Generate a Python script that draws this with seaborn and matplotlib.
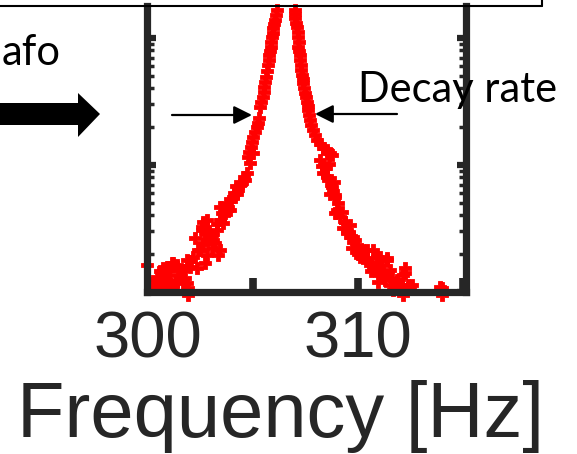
import matplotlib
matplotlib.use("Agg")
import matplotlib.pyplot as plt
import seaborn as sns
import pandas as pd
from matplotlib.ticker import LogLocator, NullLocator, NullFormatter, FixedLocator
from matplotlib.patches import Polygon, FancyArrowPatch
from matplotlib.lines import Line2D

# ---------------- data ----------------
freq_upper_left = [306.13, 306.10, 306.05, 306.00, 305.97, 305.93, 305.89, 305.86, 305.84,
                   305.80, 305.78, 305.74, 305.70, 305.66, 305.62, 305.58, 305.54, 305.50,
                   305.46, 305.40, 305.33, 305.30, 305.25, 305.18, 305.10, 305.01, 304.95,
                   304.89, 304.83, 304.78]
amp_upper_left = [166, 152, 139, 128, 120, 110, 102, 93, 85,
                  79, 73.5, 67, 61.3, 55, 49.3, 45, 41.1, 37.5,
                  34.3, 31, 28.6, 23.4, 21.5, 19.9, 18, 16.6, 15.2,
                  13.9, 12.6, 11.6]

freq_upper_right = [307.00, 307.02, 307.00, 307.05, 307.08, 307.12, 307.16, 307.18, 307.16,
                    307.20, 307.24, 307.25, 307.27, 307.30, 307.32, 307.36, 307.40, 307.44,
                    307.48, 307.52, 307.56, 307.60, 307.63, 307.67, 307.71, 307.78, 307.87,
                    307.96, 308.06, 308.20, 308.35, 308.50, 308.67]
amp_upper_right = [166, 155, 144, 132, 122, 112, 102, 93, 85,
                   79, 73.5, 67, 61.3, 56, 51.1, 47.5, 44.2, 40.5,
                   36.9, 34, 31.3, 29, 27.1, 24.8, 22.6, 20.7, 18.9,
                   17.2, 15.7, 14.6, 13.6, 13.0, 12.4]

freq_lower_left = [305.01, 304.86, 304.70, 304.55, 304.46, 304.40, 304.30, 304.20, 304.10,
                   304.06, 303.95, 303.90, 303.82, 303.70, 303.67, 303.60, 303.59, 303.51,
                   303.43, 303.43, 303.43, 303.35, 303.30, 303.27, 303.19, 303.11, 303.03,
                   302.80, 302.80, 302.80, 302.71, 302.63, 302.63, 302.56, 302.56, 302.48,
                   302.40, 302.32, 302.24, 302.16, 302.00, 301.92, 301.92, 301.84, 301.84,
                   301.68, 301.68, 301.60, 301.52, 301.52, 301.44, 301.20, 301.20, 301.20,
                   301.13, 301.05, 300.89, 300.89, 300.81, 300.73, 300.57, 300.57, 300.57,
                   300.41, 300.25, 300.18, 299.97,
                   301.35, 301.00, 300.65, 300.35, 301.75, 302.05, 300.95, 301.40, 300.50,
                   302.90, 303.05, 302.70, 304.62, 304.25, 303.75]
amp_lower_left = [12.3, 10.4, 8.65, 8.0, 7.21, 6.9, 6.36, 6.8, 6.0,
                  5.60, 5.2, 4.4, 4.67, 5.0, 4.17, 4.0, 3.47, 4.19,
                  3.69, 4.70, 2.14, 1.96, 3.4, 3.08, 2.43, 2.57, 2.21,
                  2.57, 3.69, 1.96, 1.69, 3.56, 2.42, 3.08, 3.27, 2.14,
                  2.14, 1.55, 2.66, 1.89, 1.58, 0.947, 1.07, 1.79, 1.18,
                  1.49, 1.17, 1.49, 1.31, 1.32, 1.49, 1.69, 1.09, 1.14,
                  1.68, 1.36, 1.24, 1.58, 1.21, 1.55, 1.09, 1.45, 1.14,
                  1.31, 1.18, 1.07, 1.64,
                  1.22, 1.50, 1.28, 1.05, 1.30, 1.75, 1.10, 1.62, 1.20,
                  3.00, 2.80, 2.90, 7.60, 5.90, 4.40]

freq_lower_right = [308.19, 308.30, 308.35, 308.45, 308.50, 308.51, 308.59, 308.65, 308.70,
                    308.75, 308.75, 308.80, 308.90, 308.90, 308.90, 308.99, 309.06, 309.14,
                    309.22, 309.38, 309.38, 309.46, 309.46, 309.62, 309.62, 309.70, 309.78,
                    309.78, 309.94, 309.94, 310.10, 310.10, 310.25, 310.25, 310.25, 310.41,
                    310.41, 310.57, 310.57, 310.73, 310.73, 310.89, 310.89, 310.97, 311.05,
                    311.13, 311.20, 311.20, 311.37, 311.37, 311.52, 311.52, 311.68, 311.84,
                    312.00, 312.10, 312.16, 312.16, 312.24, 312.24, 312.38, 312.40, 312.48,
                    312.57, 313.90, 313.99, 314.00,
                    309.30, 309.55, 309.85, 310.00, 310.60, 311.00, 311.30, 311.60, 311.90,
                    308.60, 308.85]
amp_lower_right = [10.9, 9.8, 8.65, 9.5, 8.2, 12.4, 7.62, 5.9, 7.0,
                   12.0, 6.71, 6.2, 5.60, 5.81, 4.17, 4.42, 4.99, 3.90,
                   4.29, 3.56, 3.58, 3.08, 2.90, 2.71, 3.37, 2.21, 2.48,
                   2.73, 2.26, 2.34, 1.89, 2.08, 2.14, 2.03, 1.84, 1.79,
                   2.14, 1.63, 1.73, 2.14, 1.54, 1.57, 1.90, 1.20, 1.89,
                   1.63, 1.41, 1.32, 1.79, 1.84, 1.49, 1.14, 1.04, 1.24,
                   1.09, 1.14, 1.36, 0.947, 1.55, 1.41, 1.14, 1.07, 1.09,
                   1.14, 1.09, 1.075, 0.947,
                   3.20, 2.95, 2.55, 2.00, 1.45, 1.35, 1.25, 1.30, 1.15,
                   10.2, 7.3]

x_ticks = [300, 305, 310, 315]
x_tick_labels = ["300", "", "310", ""]
x_label = "Frequency [Hz]"
note_right = "Decay rate"
note_left = "afo"

# ---------------- figure ----------------
W, H = 577, 454
sns.set_style("white")
plt.rcParams["font.family"] = ["Liberation Sans", "DejaVu Sans"]

fig = plt.figure(figsize=(W / 100, H / 100), dpi=100)
fig.patch.set_facecolor("white")


def fx(px):
    return px / W


def fy(py):
    return 1 - py / H


ax = fig.add_axes([fx(147), fy(292), (466 - 147) / W, (292 - 6) / H])
ax.set_facecolor("white")

df = pd.DataFrame({
    "freq": freq_upper_left + freq_upper_right + freq_lower_left + freq_lower_right,
    "amp": amp_upper_left + amp_upper_right + amp_lower_left + amp_lower_right,
})
sns.scatterplot(data=df, x="freq", y="amp", ax=ax, marker="P", color="#ff0000",
                s=85, linewidth=0.6, edgecolor="#ff0000", clip_on=False, legend=False)

ax.set_yscale("log")
ax.set_xlim(299.95, 315.14)
ax.set_ylim(1, 178)

dark = "#262626"
for side in ["left", "right", "bottom"]:
    ax.spines[side].set_color(dark)
    ax.spines[side].set_linewidth(5.2)
ax.spines["top"].set_visible(False)

ax.xaxis.set_major_locator(FixedLocator(x_ticks))
ax.set_xticklabels(x_tick_labels)
ax.xaxis.set_minor_locator(NullLocator())
ax.tick_params(axis="x", which="major", direction="in", length=10, width=5.5,
               colors=dark, labelsize=47, pad=13, top=False, bottom=True)

ax.yaxis.set_major_locator(LogLocator(base=10))
ax.yaxis.set_minor_locator(LogLocator(base=10, subs=[2, 3, 4, 5, 6, 7, 8, 9]))
ax.yaxis.set_minor_formatter(NullFormatter())
ax.tick_params(axis="y", which="major", direction="in", length=6.5, width=4.5,
               colors=dark, left=True, right=True, labelleft=False, labelright=False)
ax.tick_params(axis="y", which="minor", direction="in", length=4.7, width=2.5,
               colors=dark, left=True, right=True)

ax.set_ylabel("")
ax.set_xlabel(x_label, fontsize=56, color=dark)
ax.xaxis.label.set_va("baseline")
ax.xaxis.set_label_coords(0.42, -(437 - 292) / 286)

# ---------------- overlay annotations ----------------
fig.text(fx(358), fy(102), note_right, fontfamily=["Lato", "DejaVu Sans"], fontsize=30,
         va="baseline", ha="left", color="black", zorder=10)
fig.text(fx(61), fy(65), note_left, fontfamily=["Lato", "DejaVu Sans"], fontsize=30,
         va="baseline", ha="right", color="black", zorder=10)

big_arrow = [(-5, 103), (78, 103), (78, 93), (100, 114), (78, 137), (78, 125), (-5, 125)]
fig.add_artist(Polygon([(fx(a), fy(b)) for a, b in big_arrow], closed=True,
                       transform=fig.transFigure, facecolor="black", edgecolor="none",
                       zorder=10))

for (xa, ya), (xb, yb) in [((172, 115), (252, 115)), ((397, 114), (315, 114))]:
    fig.add_artist(FancyArrowPatch((fx(xa), fy(ya)), (fx(xb), fy(yb)),
                                   transform=fig.transFigure,
                                   arrowstyle="-|>,head_length=11,head_width=5.5",
                                   mutation_scale=1, lw=1.6, color="black",
                                   shrinkA=0, shrinkB=0, zorder=10))

fig.add_artist(Line2D([fx(-5), fx(542)], [fy(6), fy(6)], transform=fig.transFigure,
                      color="black", lw=1.5, zorder=11))
fig.add_artist(Line2D([fx(542), fx(542)], [fy(6), fy(-5)], transform=fig.transFigure,
                      color="black", lw=1.5, zorder=11))

fig.savefig("out.png", dpi=100, facecolor="white")
